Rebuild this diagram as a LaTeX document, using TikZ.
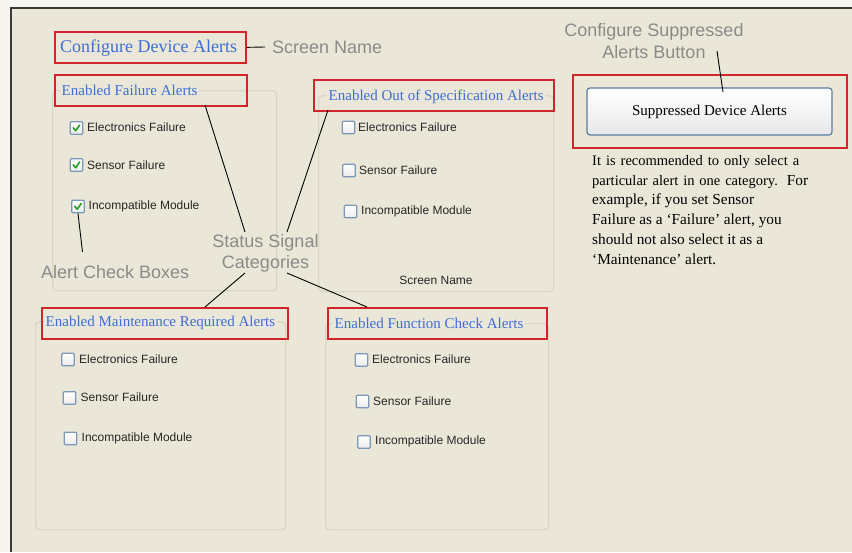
\documentclass[tikz,border=0pt]{standalone}
\usepackage{fontspec}
\setmainfont{Liberation Serif}
\newfontfamily\lsans{Liberation Sans}
\definecolor{bgc}{HTML}{EBE7D8}
\definecolor{edgec}{HTML}{F6F5F0}
\definecolor{framec}{HTML}{3A3A36}
\definecolor{redc}{HTML}{D0262B}
\definecolor{bluec}{HTML}{3E6ED6}
\definecolor{grayc}{HTML}{8A8A88}
\definecolor{grpc}{HTML}{D9D6C6}
\definecolor{cbc}{HTML}{7C98B6}
\definecolor{checkc}{HTML}{22A022}
\definecolor{btnc}{HTML}{5A7CA3}
\tikzset{
  redbox/.style={draw=redc, line width=1.7pt, inner sep=0pt, anchor=north west},
  grp/.style={draw=grpc, line width=1.4pt, rounded corners=4pt, inner sep=0pt, anchor=north west},
  legendtext/.style={text=bluec, fill=bgc, inner sep=1.5pt, anchor=west, font=\fontsize{15}{18}\selectfont},
  graylabel/.style={text=grayc, inner sep=0pt, font=\lsans\fontsize{18}{22}\selectfont},
  cbox/.style={draw=cbc, line width=1.4pt, minimum size=12.5pt, inner sep=0pt, rounded corners=1pt, top color=white, bottom color=black!8},
  cblabel/.style={anchor=west, inner sep=0pt, text=black!85, font=\lsans\fontsize{12}{14}\selectfont},
  checkm/.style={draw=checkc, line width=1.6pt, line cap=round, line join=round},
  conn/.style={draw=black, line width=0.9pt}
}
\newcommand{\pline}[2]{\makebox[#1][s]{#2}}
\begin{document}
\begin{tikzpicture}[x=1pt,y=-1pt]
\useasboundingbox (0,0) rectangle (852,552);
\fill[edgec] (0,0) rectangle (852,552);
\fill[bgc] (11,8) rectangle (852,552);
\draw[framec, line width=2pt] (10,7.5) -- (852,7.5);
\draw[framec, line width=2pt] (10.5,7) -- (10.5,552);

% Title
\node[redbox, minimum width=191pt, minimum height=31pt] (titlebox) at (54,31) {};
\node[text=bluec, anchor=west, inner sep=0pt, font=\fontsize{18}{20}\selectfont] (title) at (60,48.5) {Configure Device Alerts};
\node[graylabel, anchor=west] (scrname) at (272,47) {Screen Name};
\coordinate (scrstart) at (265,47);
\draw[conn] (titlebox.east) -- (scrstart);

% Group boxes
\node[grp, minimum width=224pt, minimum height=200pt] (g1) at (52,90) {};
\node[grp, minimum width=235pt, minimum height=196pt] (g2) at (318,95) {};
\node[grp, minimum width=250pt, minimum height=208pt] (g3) at (35,321) {};
\node[grp, minimum width=223pt, minimum height=206pt] (g4) at (325,323) {};

% legends
\node[legendtext] (t1) at (60,90.5) {Enabled Failure Alerts};
\node[legendtext] (t2) at (327,96.5) {Enabled Out of Specification Alerts};
\node[legendtext] (t3) at (44,322.5) {Enabled Maintenance Required Alerts};
\node[legendtext] (t4) at (333,323.5) {Enabled Function Check Alerts};

% red boxes around legends
\node[redbox, minimum width=192pt, minimum height=31pt] (r1) at (54,74) {};
\node[redbox, minimum width=240pt, minimum height=31pt] (r2) at (313,79) {};
\node[redbox, minimum width=246pt, minimum height=31pt] (r3) at (41,307) {};
\node[redbox, minimum width=219pt, minimum height=31pt] (r4) at (327,307) {};

% Group 1 checkboxes (checked)
\node[cbox] (c11) at (76.5,128) {};
\node[cbox] (c12) at (76.5,165) {};
\node[cbox] (c13) at (78,206.5) {};
\foreach \c in {c11,c12,c13}{
  \draw[checkm] ([shift={(-3.2,-0.2)}]\c.center) -- ([shift={(-0.8,2.8)}]\c.center) -- ([shift={(3.2,-3)}]\c.center);
}
\node[cblabel] (l11) at (87,127) {Electronics Failure};
\node[cblabel] (l12) at (87,165) {Sensor Failure};
\node[cblabel] (l13) at (88.5,206) {Incompatible Module};

% Group 2
\node[cbox] (c21) at (348.5,127.5) {};
\node[cbox] (c22) at (349,170.5) {};
\node[cbox] (c23) at (350.5,211.5) {};
\node[cblabel] (l21) at (358,127) {Electronics Failure};
\node[cblabel] (l22) at (359,170) {Sensor Failure};
\node[cblabel] (l23) at (361,211) {Incompatible Module};
\node[inner sep=0pt, text=black!85, font=\lsans\fontsize{12}{14}\selectfont] (sn2) at (436,280) {Screen Name};

% Group 3
\node[cbox] (c31) at (68,359.5) {};
\node[cbox] (c32) at (69.5,398) {};
\node[cbox] (c33) at (70.5,438.5) {};
\node[cblabel] (l31) at (79,359) {Electronics Failure};
\node[cblabel] (l32) at (80.5,397.5) {Sensor Failure};
\node[cblabel] (l33) at (81.5,438) {Incompatible Module};

% Group 4
\node[cbox] (c41) at (361.5,360) {};
\node[cbox] (c42) at (362.5,401.5) {};
\node[cbox] (c43) at (364,442) {};
\node[cblabel] (l41) at (372,359) {Electronics Failure};
\node[cblabel] (l42) at (373,401) {Sensor Failure};
\node[cblabel] (l43) at (375,441) {Incompatible Module};

% Alert check boxes label
\node[graylabel, anchor=west] (acb) at (41,272) {Alert Check Boxes};
\coordinate (acbtop) at (82.5,252);
\draw[conn] (c13.south) -- (acbtop);

% Status signal categories
\node[graylabel, align=center, font=\lsans\fontsize{18}{21}\selectfont] (ssc) at (265.5,253.5) {Status Signal\\Categories};
\coordinate (s1) at (245,232);
\coordinate (s2) at (287,232);
\coordinate (s3) at (245,273);
\coordinate (s4) at (287,273);
\coordinate (r1p) at (205,105);
\coordinate (r2p) at (328,110);
\coordinate (r3p) at (205,307);
\coordinate (r4p) at (367,307);
\draw[conn] (r1p) -- (s1);
\draw[conn] (r2p) -- (s2);
\draw[conn] (s3) -- (r3p);
\draw[conn] (s4) -- (r4p);

% Suppressed alerts
\node[graylabel, align=center, font=\lsans\fontsize{18}{22}\selectfont] (csb) at (654,41) {Configure Suppressed\\Alerts Button};
\node[redbox, minimum width=274pt, minimum height=73pt] (rb) at (572,74) {};
\node[draw=btnc, line width=1.2pt, rounded corners=3pt, top color=white, bottom color=black!9,
      minimum width=245pt, minimum height=47pt, inner sep=0pt, font=\fontsize{15}{18}\selectfont] (btn) at (709.5,111.5) {Suppressed Device Alerts};
\coordinate (csbend) at (717,51);
\coordinate (btnpt) at (723,92);
\draw[conn] (csbend) -- (btnpt);

\node[anchor=north west, inner sep=0pt, align=left, text=black, font=\fontsize{15.3}{19.8}\selectfont] (para) at (592,155)
 {{\fontsize{14.5}{19.8}\selectfont\pline{207pt}{It is recommended to only select a}}\\
  \pline{216pt}{{\fontsize{14.5}{19.8}\selectfont particular alert in one category.} For}\\
  example, if you set Sensor\\
  Failure as a `Failure' alert, you\\
  should not also select it as a\\
  `Maintenance' alert.};
\end{tikzpicture}
\end{document}
